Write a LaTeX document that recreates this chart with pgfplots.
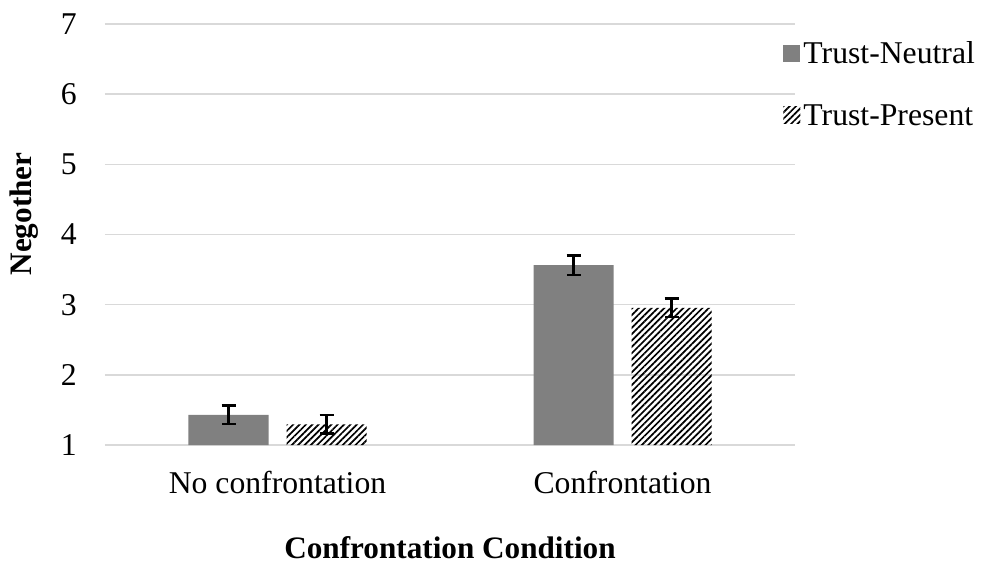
\documentclass[border=0pt]{standalone}
\usepackage{pgfplots}
\pgfplotsset{compat=1.18}
\usepackage{fontspec}
\setmainfont{Liberation Serif}
\usetikzlibrary{patterns.meta}
\newcommand\bigf{\fontsize{31.7}{38}\selectfont}
\newcommand\labf{\fontsize{31.2}{38}\selectfont}
\begin{document}
\begin{tikzpicture}
\useasboundingbox (-105pt,-120pt) rectangle (882pt,445pt);
\begin{axis}[
  at={(0pt,0pt)}, anchor=south west,
  scale only axis, width=690pt, height=421pt,
  ymin=1, ymax=7, xmin=-0.5, xmax=1.5,
  ytick={1,2,3,4,5,6,7},
  xtick={0,1}, xticklabels={No confrontation, Confrontation},
  /pgf/number format/assume math mode=true,
  axis line style={draw=none},
  major tick length=0pt,
  ymajorgrids, grid style={draw=black!15, line width=1.4pt},
  tick label style={font=\bigf},
  yticklabel style={anchor=east, inner sep=0pt, xshift=-28pt},
  xticklabel style={anchor=base, inner sep=0pt, yshift=-48pt},
  ylabel={Negother}, ylabel style={font=\labf\bfseries, at={(axis description cs:-0.117,0.549)}, anchor=center},
  xlabel={Confrontation Condition}, xlabel style={font=\labf\bfseries, at={(axis description cs:0.5,0)}, anchor=base, yshift=-113pt},
  ybar, bar width=80pt,
  legend style={at={(axis description cs:0.983,0.965)}, anchor=north west, draw=none, fill=none, font=\bigf, row sep=33pt, inner sep=0pt, nodes={inner sep=3pt}},
  legend cell align=left,
  legend image code/.code={\path[#1, draw=none] (0pt,-8pt) rectangle (17pt,9pt);},
  error bars/error bar style={line width=2.6pt, black},
  error bars/error mark options={rotate=90, line width=2.6pt, mark size=7pt, black},
]
\addplot[bar shift=-49pt, fill=black!50, draw=none,
  error bars/.cd, y dir=both, y explicit]
  coordinates {(0,1.43) +- (0,0.13) (1,3.565) +- (0,0.14)};
\addlegendentry{Trust-Neutral}
\addplot[bar shift=49pt, draw=none, pattern={Lines[angle=45,distance=4.5pt,line width=1.7pt]}, pattern color=black,
  error bars/.cd, y dir=both, y explicit]
  coordinates {(0,1.295) +- (0,0.135) (1,2.955) +- (0,0.13)};
\addlegendentry{Trust-Present}
\end{axis}
\end{tikzpicture}
\end{document}
